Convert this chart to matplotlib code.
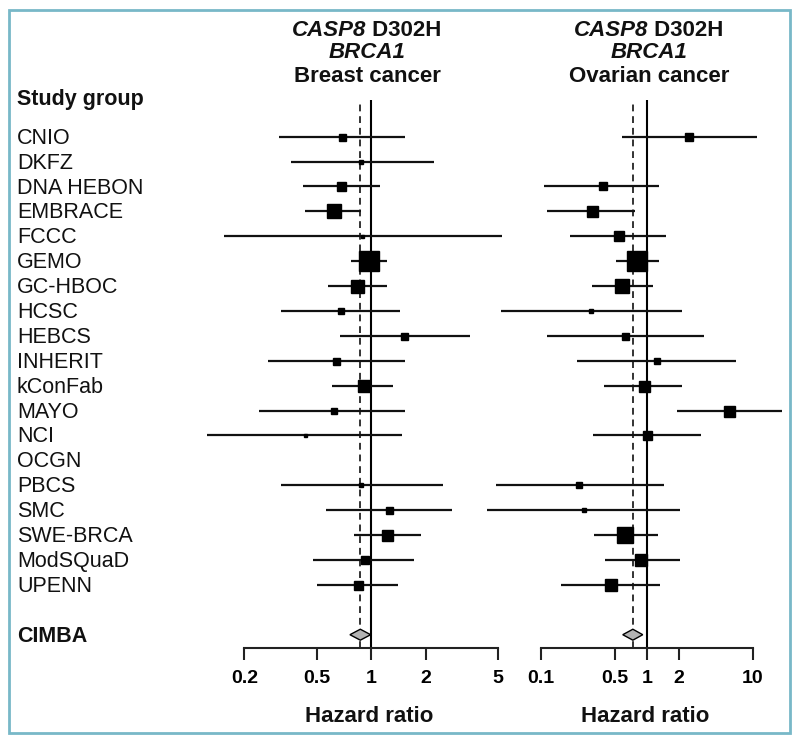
# Forest plot: CASP8 D302H in BRCA1 carriers, breast vs ovarian cancer
import numpy as np
import matplotlib.pyplot as plt
from matplotlib.patches import Polygon, Rectangle
from matplotlib.ticker import NullLocator

plt.rcParams['font.family'] = ['Liberation Sans', 'DejaVu Sans']

nan = np.nan

# %% Data (hazard ratios)
studies = ['CNIO', 'DKFZ', 'DNA HEBON', 'EMBRACE', 'FCCC', 'GEMO', 'GC-HBOC',
           'HCSC', 'HEBCS', 'INHERIT', 'kConFab', 'MAYO', 'NCI', 'OCGN',
           'PBCS', 'SMC', 'SWE-BRCA', 'ModSQuaD', 'UPENN']

# breast cancer
bc_hr = [0.69, 0.88, 0.68, 0.62, 0.89, 0.97, 0.83, 0.68, 1.52, 0.64,
         0.91, 0.62, 0.43, nan, 0.88, 1.25, 1.22, 0.92, 0.84]
bc_lo = [0.31, 0.36, 0.42, 0.43, 0.155, 0.77, 0.575, 0.32, 0.67, 0.27,
         0.61, 0.24, 0.124, nan, 0.32, 0.56, 0.80, 0.48, 0.50]
bc_hi = [1.53, 2.22, 1.12, 0.88, 5.26, 1.22, 1.22, 1.44, 3.49, 1.53,
         1.31, 1.53, 1.47, nan, 2.47, 2.77, 1.87, 1.72, 1.41]
bc_weight = [7, 5, 9, 14, 3, 20, 13, 6, 7, 7, 12, 6, 3, nan, 5, 7, 11, 8, 9]
bc_pooled = [0.87, 0.763, 0.992]  # estimate, lower, upper

# ovarian cancer
oc_hr = [2.51, nan, 0.385, 0.305, 0.55, 0.815, 0.59, 0.30, 0.63, 1.24,
         0.95, 6.0, 1.0, nan, 0.23, 0.256, 0.63, 0.88, 0.46]
oc_lo = [0.58, nan, 0.108, 0.114, 0.189, 0.51, 0.307, 0.042, 0.115, 0.219,
         0.396, 1.94, 0.31, nan, 0.038, 0.031, 0.318, 0.405, 0.156]
oc_hi = [11.1, nan, 1.31, 0.78, 1.51, 1.31, 1.15, 2.14, 3.49, 6.9,
         2.17, 19.0, 3.23, nan, 1.47, 2.06, 1.27, 2.06, 1.33]
oc_weight = [8, nan, 8, 11, 10, 20, 14, 5, 7, 6, 11, 11, 9, nan, 6, 5, 16, 12, 12]
oc_pooled = [0.74, 0.594, 0.917]

bc_ticks = [0.2, 0.5, 1, 2, 5]
oc_ticks = [0.1, 0.5, 1, 2, 10]
tick_labels_bc = ['0.2', '0.5', '1', '2', '5']
tick_labels_oc = ['0.1', '0.5', '1', '2', '10']

# %% Layout (pixels)
W, H = 800, 744
fig = plt.figure(figsize=(W / 100, H / 100), dpi=100)

top_px, bot_px = 100, 648
row0_px, row_step = 136.7, 24.9
n_rows = len(studies)
cimba_row = n_rows + 1
ylim = ((bot_px - row0_px) / row_step, (top_px - row0_px) / row_step)


def px_axes(x0, x1):
    return fig.add_axes([x0 / W, 1 - bot_px / H, (x1 - x0) / W, (bot_px - top_px) / H])


def forest(ax, hr, lo, hi, weight, pooled, ticks, labels, xlim):
    ax.set_xscale('log')
    ax.set_xlim(*xlim)
    ax.set_ylim(*ylim)
    ax.patch.set_visible(False)
    for s in ['top', 'left', 'right']:
        ax.spines[s].set_visible(False)
    ax.spines['bottom'].set_bounds(ticks[0], ticks[-1])
    ax.spines['bottom'].set_linewidth(1.5)
    ax.spines['bottom'].set_color('#222222')
    ax.set_yticks([])
    ax.set_xticks(ticks)
    ax.set_xticklabels(labels, fontsize=14, fontweight='bold')
    ax.xaxis.set_minor_locator(NullLocator())
    ax.tick_params(axis='x', length=8.5, width=1.5, pad=7, color='#222222')

    ax.axvline(1, color='k', lw=1.5, zorder=1)
    ax.axvline(pooled[0], color='#333333', lw=1.4, ls=(0, (3.5, 2.5)), zorder=1)

    for i in range(len(hr)):
        if np.isnan(hr[i]):
            continue
        ax.hlines(i, lo[i], hi[i], color='#111111', lw=1.6, clip_on=False, zorder=2)
        ax.plot(hr[i], i, marker='s', ms=weight[i] * 0.72, color='k',
                mec='k', clip_on=False, zorder=3)

    est, plo, phi = pooled
    dh = 0.22
    ax.add_patch(Polygon([(plo, cimba_row), (est, cimba_row - dh),
                          (phi, cimba_row), (est, cimba_row + dh)],
                         closed=True, facecolor='#b3b3b3', edgecolor='k',
                         lw=1, zorder=4))


ax1 = px_axes(190, 510)
forest(ax1, bc_hr, bc_lo, bc_hi, bc_weight, bc_pooled, bc_ticks,
       tick_labels_bc, (0.1005, 5.80))

ax2 = px_axes(480, 790)
forest(ax2, oc_hr, oc_lo, oc_hi, oc_weight, oc_pooled, oc_ticks,
       tick_labels_oc, (0.0267, 22.5))

# %% Texts
def fy(px):
    return 1 - px / H


for i, name in enumerate(studies):
    fig.text(17 / W, fy(row0_px + 1.5 + i * row_step), name, fontsize=15.5,
             va='center', color='#111111')
fig.text(17 / W, fy(99), 'Study group', fontsize=15.5, fontweight='bold',
         va='center', color='#111111')
fig.text(17 / W, fy(row0_px + 1.5 + cimba_row * row_step), 'CIMBA', fontsize=15.5,
         fontweight='bold', va='center', color='#111111')

renderer = fig.canvas.get_renderer()


def title_block(xc, outcome):
    t1 = fig.text(0, fy(30), 'CASP8', fontsize=16, fontweight='bold',
                  style='italic', va='center', color='#111111')
    t2 = fig.text(0, fy(30), ' D302H', fontsize=16, fontweight='bold',
                  va='center', color='#111111')
    w1 = t1.get_window_extent(renderer).width
    w2 = t2.get_window_extent(renderer).width
    start = xc - (w1 + w2) / 2
    t1.set_x(start / W)
    t2.set_x((start + w1) / W)
    fig.text(xc / W, fy(53), 'BRCA1', fontsize=16, fontweight='bold',
             style='italic', ha='center', va='center', color='#111111')
    fig.text(xc / W, fy(76), outcome, fontsize=16, fontweight='bold',
             ha='center', va='center', color='#111111')


title_block(367, 'Breast cancer')
title_block(649, 'Ovarian cancer')

fig.text(369 / W, fy(717), 'Hazard ratio', fontsize=16, fontweight='bold',
         ha='center', va='center', color='#111111')
fig.text(645 / W, fy(717), 'Hazard ratio', fontsize=16, fontweight='bold',
         ha='center', va='center', color='#111111')

# frame
fig.patches.append(Rectangle((9 / W, 1 - 733 / H), 781 / W, 723 / H,
                             transform=fig.transFigure, fill=False,
                             edgecolor='#78b8c8', lw=2))

fig.savefig('out.png', dpi=100)
